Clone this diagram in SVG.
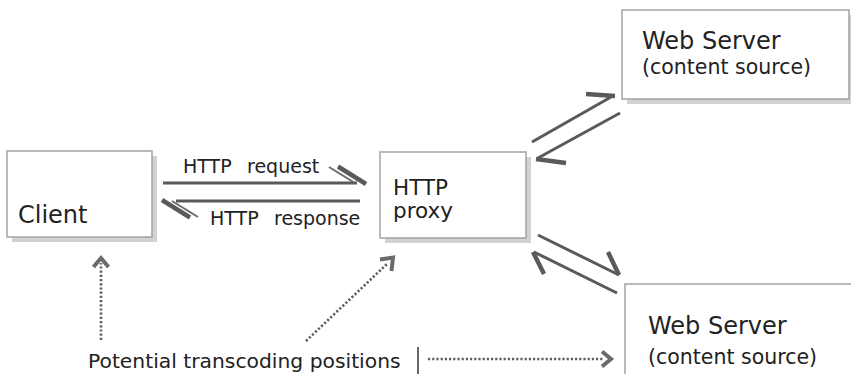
<svg xmlns="http://www.w3.org/2000/svg" width="851" height="374" viewBox="0 0 851 374">
  <style>
    .box { fill: #ffffff; stroke: #a3a3a3; stroke-width: 1.5; }
    .shadow { fill: #d2d2d2; }
    .label { font-family: "DejaVu Sans", Verdana, sans-serif; fill: #222222; }
    .flow { stroke: #5a5a5a; stroke-width: 3; fill: none; }
    .barb { stroke: #5a5a5a; stroke-width: 4.5; fill: none; stroke-linecap: butt; }
    .barb-thin { stroke: #6a6a6a; stroke-width: 2; fill: none; }
    .dots { stroke: #5e5e5e; stroke-width: 2.6; stroke-dasharray: 2.2 2; fill: none; }
    .chev { stroke: #6a6a6a; stroke-width: 4; fill: none; stroke-linejoin: miter; }
  </style>

  <rect width="851" height="374" fill="#ffffff"/>

  <!-- Client -->
  <g id="client">
    <rect class="shadow" x="12" y="156" width="145" height="86"/>
    <rect class="box" x="7" y="151" width="145" height="86"/>
    <text class="label" x="18" y="223" font-size="24">Client</text>
  </g>

  <!-- HTTP proxy -->
  <g id="proxy">
    <rect class="shadow" x="385" y="157" width="146" height="86"/>
    <rect class="box" x="380" y="152" width="146" height="86"/>
    <text class="label" x="393" y="195" font-size="21.5">HTTP</text>
    <text class="label" x="393" y="218" font-size="21.5">proxy</text>
  </g>

  <!-- Upper web server -->
  <g id="server-top">
    <rect class="shadow" x="627" y="15" width="227" height="89"/>
    <rect class="box" x="622" y="10" width="227" height="89"/>
    <text class="label" x="642" y="49" font-size="24">Web Server</text>
    <text class="label" x="642" y="74" font-size="20.5">(content source)</text>
  </g>

  <!-- Lower web server -->
  <g id="server-bottom">
    <rect class="box" x="625" y="284" width="232" height="100"/>
    <text class="label" x="648" y="334" font-size="24">Web Server</text>
    <text class="label" x="648" y="364" font-size="20.5">(content source)</text>
  </g>

  <!-- Connectors -->
  <g id="connectors">
    <!-- request: client to proxy -->
    <line class="flow" x1="163" y1="183" x2="357" y2="183"/>
    <line class="barb" x1="338" y1="166.5" x2="366" y2="184"/>
    <line class="barb-thin" x1="329" y1="167" x2="355" y2="183"/>
    <!-- response: proxy to client -->
    <line class="flow" x1="176" y1="201" x2="360" y2="201"/>
    <line class="barb" x1="162" y1="200" x2="190" y2="217.5"/>
    <line class="barb-thin" x1="172" y1="201" x2="198" y2="217"/>

    <!-- proxy to upper server and back -->
    <line class="flow" x1="532" y1="142" x2="611" y2="97"/>
    <line class="barb" x1="586" y1="94" x2="615" y2="96"/>
    <line class="flow" x1="620" y1="113" x2="538" y2="158"/>
    <line class="barb" x1="536" y1="159" x2="566" y2="163"/>

    <!-- proxy to lower server and back -->
    <line class="flow" x1="538" y1="235" x2="619" y2="275"/>
    <line class="barb" x1="608" y1="252" x2="619" y2="275"/>
    <line class="flow" x1="617" y1="293" x2="534" y2="252"/>
    <line class="barb" x1="533" y1="252" x2="544" y2="274"/>

    <!-- transcoding position pointers -->
    <line class="dots" x1="101" y1="340" x2="101" y2="263"/>
    <polyline class="chev" points="93.5,267 101,258 108.5,267"/>
    <line class="dots" x1="306" y1="341" x2="388" y2="263"/>
    <polyline class="chev" points="380,259.5 393,257.5 391.5,271"/>
    <line class="dots" x1="428" y1="359" x2="603" y2="359"/>
    <polyline class="chev" points="602,351.5 611,359 602,366.5"/>
    <line stroke="#666666" stroke-width="2" x1="418" y1="347" x2="418" y2="374"/>
  </g>

  <!-- Labels -->
  <g id="labels">
    <text class="label" y="173" font-size="19"><tspan x="183">HTTP</tspan><tspan x="247">request</tspan></text>
    <text class="label" y="225" font-size="19"><tspan x="210">HTTP</tspan><tspan x="274">response</tspan></text>
    <text class="label" x="88" y="368" font-size="20.3">Potential transcoding positions</text>
  </g>
</svg>
